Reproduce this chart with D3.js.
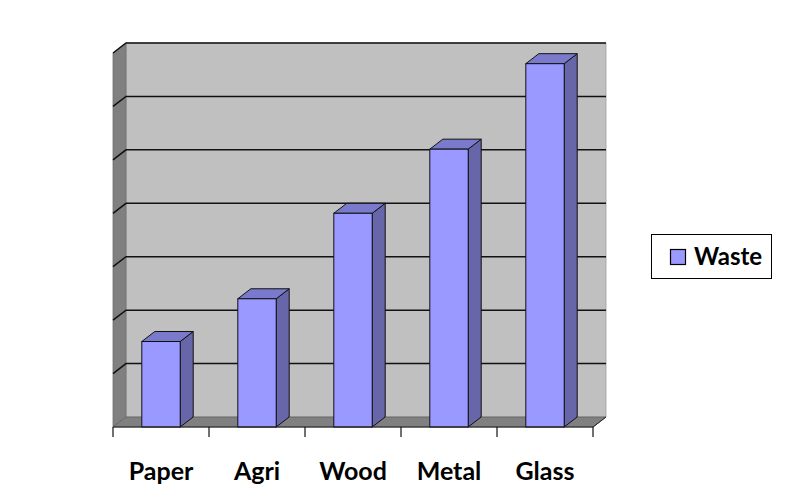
<!DOCTYPE html>
<html><head><meta charset="utf-8">
<script src="https://cdn.jsdelivr.net/npm/d3@7"></script>
<style>html,body{margin:0;padding:0;background:#fff}svg{display:block}</style>
</head><body>
<svg id="c" width="809" height="501"></svg>
<script>
const categories = ["Paper", "Agri", "Wood", "Metal", "Glass"];
const wasteValues = [1.6, 2.4, 4.0, 5.2, 6.8];
const gridValues = [0, 1, 2, 3, 4, 5, 6, 7];
const seriesName = "Waste";

const svg = d3.select("#c");
const dx = 13, dy = -10;
const x = d3.scaleBand().domain(categories).range([113, 593]);
const y = d3.scaleLinear().domain([0, 7]).range([427, 53]);
const x0 = x.range()[0], x1 = x.range()[1];
const line = d3.line();

// back wall
svg.append("path").attr("d", line([[x0+dx,y(7)+dy],[x1+dx,y(7)+dy],[x1+dx,y(0)+dy],[x0+dx,y(0)+dy]])+"Z")
  .attr("fill", "#c0c0c0").attr("stroke", "#a0a0a0").attr("stroke-width", 0.8);
// side wall
svg.append("path").attr("d", line([[x0,y(7)],[x0+dx,y(7)+dy],[x0+dx,y(0)+dy],[x0,y(0)]])+"Z")
  .attr("fill", "#808080").attr("stroke", "#707070").attr("stroke-width", 0.8);
// floor
svg.append("path").attr("d", line([[x0,y(0)],[x1,y(0)],[x1+dx,y(0)+dy],[x0+dx,y(0)+dy]])+"Z")
  .attr("fill", "#808080").attr("stroke", "#606060").attr("stroke-width", 0.8);

// gridlines
const g = svg.append("g");
gridValues.forEach(v => {
  if (v === 0) return;
  g.append("path").attr("d", line([[x0, y(v)], [x0+dx, y(v)+dy], [x1+dx, y(v)+dy]]))
    .attr("fill", "none").attr("stroke", "#111").attr("stroke-width", 1.5);
});

// bars
const bw = x.bandwidth() * 0.4;
const bars = svg.append("g").selectAll("g").data(categories.map((c, i) => ({c, v: wasteValues[i]}))).join("g");
bars.each(function(d) {
  const sel = d3.select(this);
  const bx = x(d.c) + (x.bandwidth() - bw) / 2;
  const top = y(d.v), bot = y(0);
  sel.append("path").attr("d", line([[bx+bw, top],[bx+bw+dx, top+dy],[bx+bw+dx, bot+dy],[bx+bw, bot]])+"Z")
    .attr("fill", "#6666a8").attr("stroke", "#111").attr("stroke-width", 1);
  sel.append("path").attr("d", line([[bx, top],[bx+dx, top+dy],[bx+bw+dx, top+dy],[bx+bw, top]])+"Z")
    .attr("fill", "#7a7acc").attr("stroke", "#111").attr("stroke-width", 1);
  sel.append("rect").attr("x", bx).attr("y", top).attr("width", bw).attr("height", bot - top)
    .attr("fill", "#9999ff").attr("stroke", "#111").attr("stroke-width", 1);
});

// axis line and ticks
svg.append("path").attr("d", line([[x0, y(0)], [x1, y(0)], [x1+dx, y(0)+dy]]))
  .attr("fill", "none").attr("stroke", "#222").attr("stroke-width", 1);
const edges = categories.map(c => x(c)).concat([x1]);
svg.append("g").selectAll("line").data(edges).join("line")
  .attr("x1", d => d).attr("x2", d => d).attr("y1", y(0)).attr("y2", y(0) + 10)
  .attr("stroke", "#111").attr("stroke-width", 1.2);

// labels
svg.append("g").selectAll("text").data(categories).join("text")
  .attr("x", d => x(d) + x.bandwidth() / 2).attr("y", 480)
  .attr("text-anchor", "middle")
  .attr("font-family", "Lato, 'Open Sans', sans-serif").attr("font-weight", "bold").attr("font-size", 25)
  .attr("fill", "#000").text(d => d);

// legend
const lg = svg.append("g");
lg.append("rect").attr("x", 651.5).attr("y", 234.5).attr("width", 120).attr("height", 44)
  .attr("fill", "#fff").attr("stroke", "#000").attr("stroke-width", 1);
lg.append("rect").attr("x", 670.5).attr("y", 249.5).attr("width", 15).attr("height", 15)
  .attr("fill", "#9999ff").attr("stroke", "#000").attr("stroke-width", 1.2);
lg.append("text").attr("x", 694).attr("y", 265)
  .attr("font-family", "Lato, 'Open Sans', sans-serif").attr("font-weight", "bold").attr("font-size", 24)
  .attr("fill", "#000").text(seriesName);
</script>
</body></html>
